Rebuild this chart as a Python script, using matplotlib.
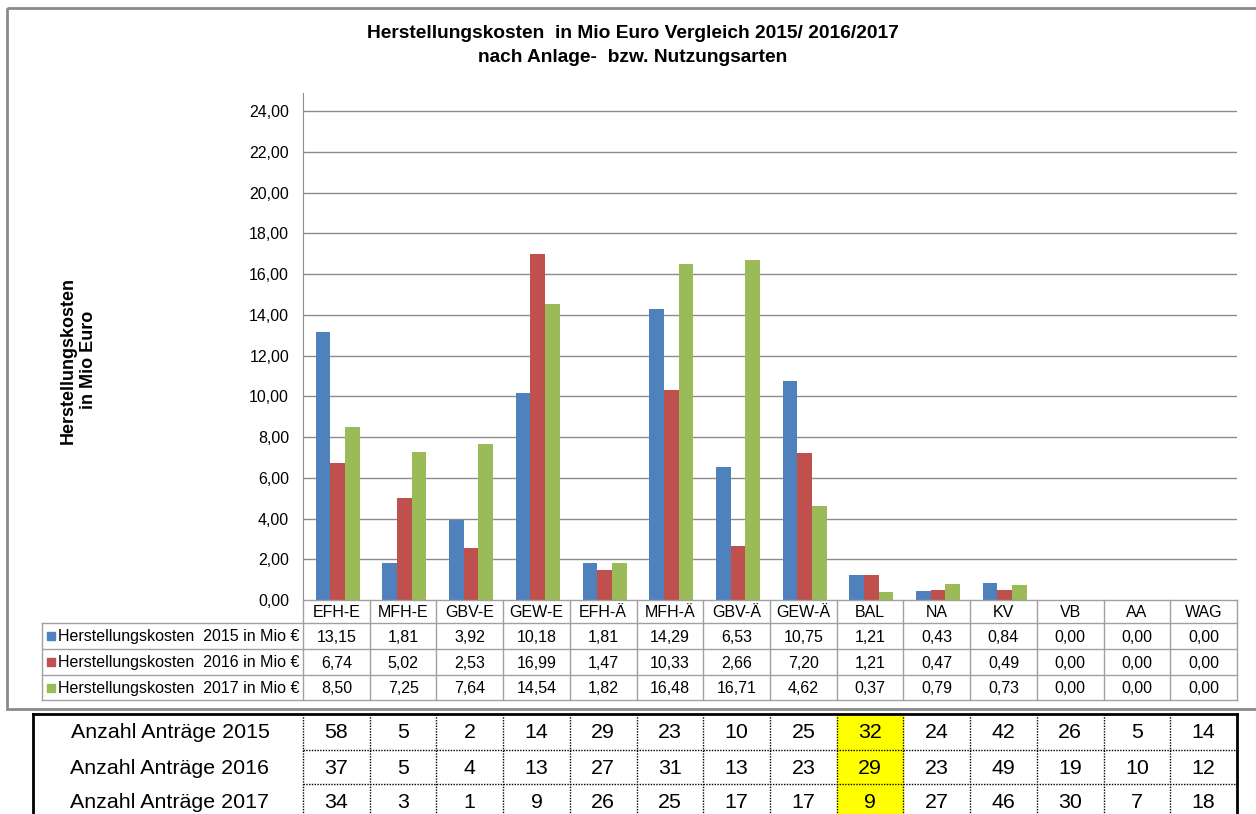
import numpy as np
import matplotlib
matplotlib.use("Agg")
import matplotlib.pyplot as plt
from matplotlib.patches import Rectangle

plt.rcParams['font.family'] = ['Liberation Sans', 'DejaVu Sans']

# data
cats = ["EFH-E", "MFH-E", "GBV-E", "GEW-E", "EFH-Ä", "MFH-Ä", "GBV-Ä",
        "GEW-Ä", "BAL", "NA", "KV", "VB", "AA", "WAG"]
cost_2015 = [13.15, 1.81, 3.92, 10.18, 1.81, 14.29, 6.53, 10.75, 1.21, 0.43, 0.84, 0.00, 0.00, 0.00]
cost_2016 = [6.74, 5.02, 2.53, 16.99, 1.47, 10.33, 2.66, 7.20, 1.21, 0.47, 0.49, 0.00, 0.00, 0.00]
cost_2017 = [8.50, 7.25, 7.64, 14.54, 1.82, 16.48, 16.71, 4.62, 0.37, 0.79, 0.73, 0.00, 0.00, 0.00]
series_labels = ["Herstellungskosten  2015 in Mio €",
                 "Herstellungskosten  2016 in Mio €",
                 "Herstellungskosten  2017 in Mio €"]
count_labels = ["Anzahl Anträge 2015", "Anzahl Anträge 2016", "Anzahl Anträge 2017"]
count_2015 = [58, 5, 2, 14, 29, 23, 10, 25, 32, 24, 42, 26, 5, 14]
count_2016 = [37, 5, 4, 13, 27, 31, 13, 23, 29, 23, 49, 19, 10, 12]
count_2017 = [34, 3, 1, 9, 26, 25, 17, 17, 9, 27, 46, 30, 7, 18]
highlight = "BAL"
yticks = np.arange(0, 25, 2)

colors = ["#4F81BD", "#C0504D", "#9BBB59"]
grid_c = "#8c8c8c"
tab_c = "#a0a0a0"
small = 11.5

W, H = 1256, 814
fig = plt.figure(figsize=(W / 100, H / 100), dpi=100)

# plot area in pixel terms
L, R, T, B = 303, 1237, 93, 600
ax = fig.add_axes([L / W, 1 - B / H, (R - L) / W, (B - T) / H])
x = np.arange(len(cats))
bw = 0.22
for k, vals in enumerate([cost_2015, cost_2016, cost_2017]):
    ax.bar(x + 0.02 + (k - 1) * bw, vals, bw, color=colors[k], zorder=3)
ax.set_xlim(-0.5, len(cats) - 0.5)
ax.set_ylim(0, 24.9)
ax.set_yticks(yticks)
ax.set_yticklabels([f"{v:.2f}".replace(".", ",") for v in yticks], fontsize=small)
ax.tick_params(axis='y', length=0, pad=10)
ax.set_xticks([])
for v in yticks[1:]:
    ax.axhline(v, color=grid_c, lw=1, zorder=1)
for s in ["top", "right", "bottom"]:
    ax.spines[s].set_visible(False)
ax.spines["left"].set_color(grid_c)

# overlay for frame and tables, pixel coordinates
ov = fig.add_axes([0, 0, 1, 1], zorder=5)
ov.set_xlim(0, W)
ov.set_ylim(H, 0)
ov.axis("off")
ov.patch.set_alpha(0)

ov.add_patch(Rectangle((7, 8), W, 701, fill=False, ec="#8a8a8a", lw=2))

fig.text(633 / W, 1 - 34 / H, "Herstellungskosten  in Mio Euro Vergleich 2015/ 2016/2017",
         ha="center", va="center", fontsize=13.8, fontweight="bold")
fig.text(633 / W, 1 - 57 / H, "nach Anlage-  bzw. Nutzungsarten",
         ha="center", va="center", fontsize=13.8, fontweight="bold")
fig.text(78 / W, 1 - 360 / H, "Herstellungskosten\nin Mio Euro", rotation=90,
         ha="center", va="center", fontsize=13, fontweight="bold", linespacing=1.25)

# data table under the chart
cw = (R - L) / len(cats)
rows = [600, 623, 649, 675, 700]
ov.plot([L, R], [rows[0], rows[0]], color=tab_c, lw=1)
for yy in rows[1:]:
    ov.plot([42, R], [yy, yy], color=tab_c, lw=1)
ov.plot([42, 42], [rows[1], rows[-1]], color=tab_c, lw=1)
for i in range(len(cats) + 1):
    ov.plot([L + i * cw] * 2, [rows[0], rows[-1]], color=tab_c, lw=1)
for i, c in enumerate(cats):
    ov.text(L + (i + 0.5) * cw, (rows[0] + rows[1]) / 2 + 1, c, ha="center", va="center", fontsize=small)
for r, (lab, vals) in enumerate(zip(series_labels, [cost_2015, cost_2016, cost_2017])):
    yc = (rows[r + 1] + rows[r + 2]) / 2
    ov.add_patch(Rectangle((47, yc - 4), 8, 8, color=colors[r]))
    ov.text(58, yc + 1, lab, ha="left", va="center", fontsize=small)
    for i, v in enumerate(vals):
        ov.text(L + (i + 0.5) * cw, yc + 1, f"{v:.2f}".replace(".", ","),
                ha="center", va="center", fontsize=small)

# count table
top = 714
crow = [top, 750, 784, 820]
hi = cats.index(highlight)
ov.add_patch(Rectangle((L + hi * cw, top), cw, H - top, color="#FFFF00", zorder=0))
for yy in crow[1:3]:
    ov.plot([L, R], [yy, yy], color="black", lw=1, ls=(0, (1, 1)))
for i in range(len(cats)):
    ov.plot([L + i * cw] * 2, [top, H], color="black", lw=1, ls=(0, (1, 1)))
ov.plot([33, R], [top, top], color="black", lw=2)
ov.plot([33, 33], [top, H], color="black", lw=2)
ov.plot([R, R], [top, H], color="black", lw=2)
for r, (lab, vals) in enumerate(zip(count_labels, [count_2015, count_2016, count_2017])):
    yc = (crow[r] + crow[r + 1]) / 2 + 1
    ov.text(170, yc, lab, ha="center", va="center", fontsize=15.4)
    for i, v in enumerate(vals):
        ov.text(L + (i + 0.5) * cw, yc, str(v), ha="center", va="center", fontsize=15.4)

fig.savefig("out.png", dpi=100)
